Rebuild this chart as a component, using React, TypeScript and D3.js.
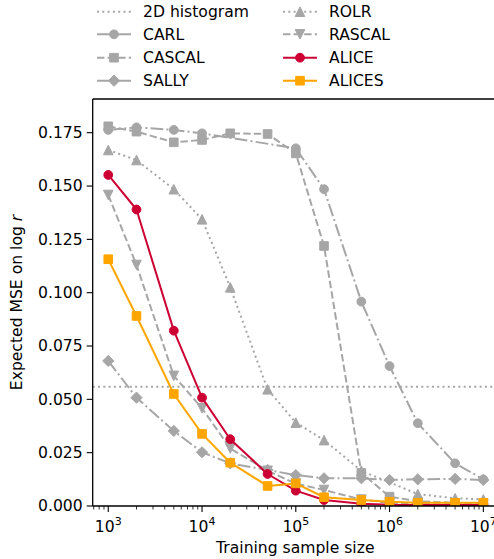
import React from "react";
import * as d3 from "d3";

const sampleSizes = [1e3, 2e3, 5e3, 1e4, 2e4, 5e4, 1e5, 2e5, 5e5, 1e6, 2e6, 5e6, 1e7];
const carl = [0.1763, 0.1775, 0.1763, 0.1747, null, null, 0.1677, 0.1485, 0.0958, 0.0656, 0.0388, 0.02, 0.0125];
const cascal = [0.178, 0.1755, 0.1705, 0.1716, 0.1747, 0.1744, 0.1653, 0.1219, 0.0155, 0.0044, 0.0022, 0.0015, 0.0013];
const sally = [0.068, 0.0508, 0.0352, 0.0252, 0.02, 0.0169, 0.0145, 0.013, 0.013, 0.0122, 0.0125, 0.0127, 0.0122];
const rolr = [0.1669, 0.1622, 0.1485, 0.1344, 0.1025, 0.0547, 0.0391, 0.0309, 0.0165, null, 0.0056, 0.0036, 0.0031];
const rascal = [0.1458, 0.113, 0.061, 0.0458, 0.027, 0.0165, 0.0105, 0.0075, 0.003, 0.0015, 0.001, 0.001, 0.001];
const alice = [0.1552, 0.139, 0.0822, 0.0508, 0.0313, 0.015, 0.0072, 0.0028, 0.001, 0.0006, 0.0005, 0.0005, 0.0005];
const alices = [0.1157, 0.0891, 0.0525, 0.0338, 0.0203, 0.0094, 0.0106, 0.0041, 0.0028, 0.002, 0.0015, 0.0015, 0.0015];
const hist2d = 0.0559;

const yTicks = [0, 0.025, 0.05, 0.075, 0.1, 0.125, 0.15, 0.175];
const xTickExps = [3, 4, 5, 6, 7];

const GRAY = "#a6a6a6";
const RED = "#cc0033";
const ORANGE = "#ffa500";
const FONT = "DejaVu Sans";

const DASHED = "7.4,3.2";
const DASHDOT = "12.8,3.2,2,3.2";
const DOTTED = "2,3.3";

type Marker = "circle" | "square" | "diamond" | "tup" | "tdown" | "none";

const series: { name: string; values: (number | null)[]; color: string; dash: string | null; marker: Marker }[] = [
  { name: "CARL", values: carl, color: GRAY, dash: DASHDOT, marker: "circle" },
  { name: "CASCAL", values: cascal, color: GRAY, dash: DASHED, marker: "square" },
  { name: "SALLY", values: sally, color: GRAY, dash: DASHDOT, marker: "diamond" },
  { name: "ROLR", values: rolr, color: GRAY, dash: DOTTED, marker: "tup" },
  { name: "RASCAL", values: rascal, color: GRAY, dash: DASHED, marker: "tdown" },
  { name: "ALICE", values: alice, color: RED, dash: null, marker: "circle" },
  { name: "ALICES", values: alices, color: ORANGE, dash: null, marker: "square" },
];

const legendItems: { name: string; color: string; dash: string | null; marker: Marker }[] = [
  { name: "2D histogram", color: GRAY, dash: DOTTED, marker: "none" },
  ...series.map((s) => ({ name: s.name, color: s.color, dash: s.dash, marker: s.marker })),
];

function markerPath(m: Marker): string {
  switch (m) {
    case "circle": {
      const r = 4.4;
      return `M${-r},0A${r},${r} 0 1,0 ${r},0A${r},${r} 0 1,0 ${-r},0Z`;
    }
    case "square": {
      const h = 4.3;
      return `M${-h},${-h}L${h},${-h}L${h},${h}L${-h},${h}Z`;
    }
    case "diamond": {
      const h = 5.6;
      return `M0,${-h}L${h},0L0,${h}L${-h},0Z`;
    }
    case "tup": {
      const h = 4.8;
      return `M0,${-h}L${h},${h}L${-h},${h}Z`;
    }
    case "tdown": {
      const h = 4.8;
      return `M0,${h}L${h},${-h}L${-h},${-h}Z`;
    }
    default:
      return "";
  }
}

export default function App() {
  const W = 494;
  const H = 559;
  const left = 92.7;
  const right = 498.9;
  const top = 99;
  const bottom = 506;

  const x = d3.scaleLog().domain([Math.pow(10, 2.834), Math.pow(10, 7.166)]).range([left, right]);
  const y = d3.scaleLinear().domain([0, 0.1908]).range([bottom, top]);

  const line = d3
    .line<{ x: number; y: number }>()
    .x((d) => x(d.x))
    .y((d) => y(d.y));

  const minor: number[] = [];
  for (let e = 2; e <= 7; e++) {
    for (let k = 2; k <= 9; k++) {
      const v = k * Math.pow(10, e);
      if (v >= x.domain()[0] && v <= x.domain()[1]) minor.push(v);
    }
  }

  const legendRows = [11.7, 34.3, 57.7, 80.7];
  const legendCols = [
    { h0: 97, h1: 131, tx: 143 },
    { h0: 283, h1: 317, tx: 329 },
  ];

  return (
    <svg
      width={W}
      height={H}
      style={{ position: "absolute", left: 0, top: 0, background: "#fff" }}
      fontFamily={FONT}
    >
      <defs>
        <clipPath id="plotclip">
          <rect x={left} y={top} width={right - left} height={bottom - top} />
        </clipPath>
      </defs>
      <rect x={0} y={0} width={W} height={H} fill="#fff" />

      {/* 2D histogram horizontal line */}
      <line
        x1={left}
        x2={right}
        y1={y(hist2d)}
        y2={y(hist2d)}
        stroke={GRAY}
        strokeWidth={2}
        strokeDasharray={DOTTED}
        clipPath="url(#plotclip)"
      />

      {series.map((s) => {
        const pts = sampleSizes
          .map((sx, i) => ({ x: sx, y: s.values[i] }))
          .filter((p) => p.y !== null) as { x: number; y: number }[];
        return (
          <g key={s.name} clipPath="url(#plotclip)">
            <path
              d={line(pts) || ""}
              fill="none"
              stroke={s.color}
              strokeWidth={2}
              strokeDasharray={s.dash || undefined}
              strokeLinejoin="round"
            />
            {pts.map((p, i) => (
              <path
                key={i}
                d={markerPath(s.marker)}
                transform={`translate(${x(p.x)},${y(p.y)})`}
                fill={s.color}
                stroke={s.color}
                strokeWidth={1}
              />
            ))}
          </g>
        );
      })}

      {/* spines */}
      <line x1={left} x2={left} y1={top} y2={bottom} stroke="#000" strokeWidth={1.3} />
      <line x1={left} x2={W} y1={bottom} y2={bottom} stroke="#000" strokeWidth={1.3} />
      <line x1={left} x2={W} y1={top} y2={top} stroke="#000" strokeWidth={1.3} />

      {/* y ticks */}
      {yTicks.map((t) => (
        <g key={t}>
          <line x1={left - 6} x2={left} y1={y(t)} y2={y(t)} stroke="#000" strokeWidth={1.1} />
          <text x={left - 10} y={y(t)} dy="0.35em" textAnchor="end" fontSize={15.6} fill="#000">
            {t.toFixed(3)}
          </text>
        </g>
      ))}

      {/* x ticks */}
      {minor.map((v) => (
        <line key={"m" + v} x1={x(v)} x2={x(v)} y1={bottom} y2={bottom + 3.5} stroke="#000" strokeWidth={0.8} />
      ))}
      {xTickExps.map((e) => {
        const v = Math.pow(10, e);
        return (
          <g key={e}>
            <line x1={x(v)} x2={x(v)} y1={bottom} y2={bottom + 6} stroke="#000" strokeWidth={1.1} />
            <text x={x(v)} y={531.5} textAnchor="middle" fontSize={15.6} fill="#000">
              <tspan>10</tspan>
              <tspan fontSize={11} dy={-6.5}>
                {e}
              </tspan>
            </text>
          </g>
        );
      })}

      {/* axis labels */}
      <text x={(left + 498.9) / 2 - 0.5} y={553} textAnchor="middle" fontSize={15.6} fill="#000">
        Training sample size
      </text>
      <text
        transform={`translate(22,${(top + bottom) / 2}) rotate(-90)`}
        textAnchor="middle"
        fontSize={15.6}
        fill="#000"
      >
        Expected MSE on log <tspan fontStyle="italic">r</tspan>
      </text>

      {/* legend */}
      {legendItems.map((it, i) => {
        const col = legendCols[Math.floor(i / 4)];
        const ry = legendRows[i % 4];
        const mx = (col.h0 + col.h1) / 2;
        return (
          <g key={it.name}>
            <line
              x1={col.h0}
              x2={col.h1}
              y1={ry}
              y2={ry}
              stroke={it.color}
              strokeWidth={2}
              strokeDasharray={it.dash || undefined}
            />
            {it.marker !== "none" && (
              <path
                d={markerPath(it.marker)}
                transform={`translate(${mx},${ry})`}
                fill={it.color}
                stroke={it.color}
                strokeWidth={1}
              />
            )}
            <text x={col.tx} y={ry} dy="0.35em" fontSize={15.6} fill="#000">
              {it.name}
            </text>
          </g>
        );
      })}
    </svg>
  );
}
